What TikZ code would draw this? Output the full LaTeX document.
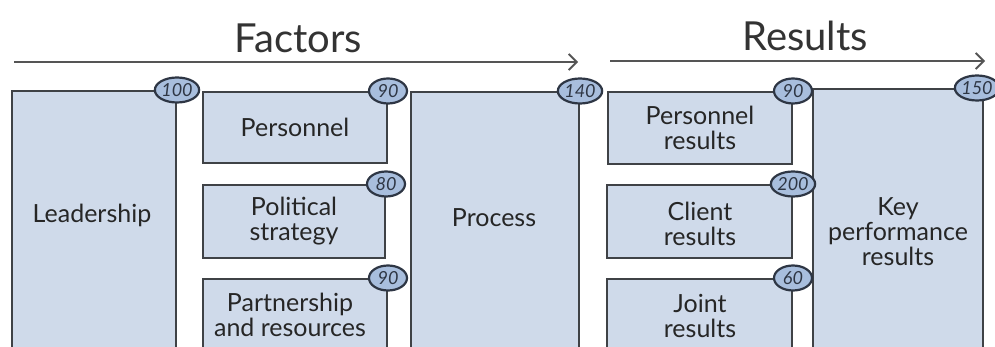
\documentclass[tikz,border=0pt]{standalone}
\usepackage{fontspec}
\setmainfont{Lato}
\usetikzlibrary{arrows.meta,shapes.geometric}
\definecolor{boxfill}{HTML}{CFDAEA}
\definecolor{boxline}{HTML}{3F4246}
\definecolor{badgefill}{HTML}{A8BEDD}
\definecolor{badgeline}{HTML}{2E3644}
\definecolor{arrowgray}{HTML}{555555}
\tikzset{
  block/.style={draw=boxline, fill=boxfill, line width=2pt, inner sep=0pt,
    align=center, font=\fontsize{25}{25}\selectfont, text=black!85},
  blocktext/.style={align=center, font=\fontsize{25}{25}\selectfont, text=black!85, inner sep=0pt},
  badge/.style={ellipse, draw=badgeline, fill=badgefill, line width=2.2pt,
    minimum width=38pt, minimum height=25pt, inner sep=0pt,
    font=\fontsize{18}{18}\itshape\selectfont, text=badgeline},
  flow/.style={draw=arrowgray, line width=1.8pt, -{Straight Barb[length=8pt,width=16pt,line width=1.8pt]}},
  heading/.style={font=\fontsize{40}{40}\selectfont, text=black!80}
}
\begin{document}
\begin{tikzpicture}[x=1pt,y=-1pt]
\useasboundingbox (0,0) rectangle (995,347);
\clip (0,0) rectangle (995,347);

% headings and direction arrows
\node[heading] (factors) at (298,38) {Factors};
\node[heading] (results) at (805,36) {Results};
\coordinate (f0) at (14,62);
\coordinate (f1) at (578,62);
\coordinate (r0) at (610,61);
\coordinate (r1) at (985,61);
\draw[flow] (f0) -- (f1);
\draw[flow] (r0) -- (r1);

% enablers
\node[block, minimum width=164pt, minimum height=269pt] (lead) at (94,225.5) {};
\node[blocktext] (leadT) at (92,215) {Leadership};
\node[block, minimum width=184pt, minimum height=71pt] (pers) at (295,127.5) {Personnel};
\node[block, minimum width=182pt, minimum height=73pt] (pol) at (294,221.5) {Political\\strategy};
\node[block, minimum width=184pt, minimum height=81pt] (part) at (295,319.5) {};
\node[blocktext] (partT) at (290,315) {Partnership\\and resources};
\node[block, minimum width=168pt, minimum height=268pt] (proc) at (495,226) {};
\node[blocktext] (procT) at (494,218) {Process};

% results
\node[block, minimum width=184pt, minimum height=72pt] (persR) at (700,128) {Personnel\\results};
\node[block, minimum width=185pt, minimum height=73pt] (cli) at (699.5,221.5) {};
\node[blocktext] (cliT) at (700,224) {Client\\results};
\node[block, minimum width=185pt, minimum height=81pt] (joint) at (699.5,319.5) {};
\node[blocktext] (jointT) at (700,316) {Joint\\results};
\node[block, minimum width=170pt, minimum height=271pt] (kpr) at (898,224.5) {};
\node[blocktext] (kprT) at (898,232) {Key\\performance\\results};

% weights
\node[badge] (bLead) at (lead.north east) {100};
\node[badge] (bPers) at (pers.north east) {90};
\node[badge] (bPol) at (pol.north east) {80};
\node[badge] (bPart) at (part.north east) {90};
\node[badge] (bProc) at (proc.north east) {140};
\node[badge] (bPersR) at (persR.north east) {90};
\node[badge] (bCli) at (cli.north east) {200};
\node[badge] (bJoint) at (joint.north east) {60};
\node[badge, xshift=-7pt] (bKpr) at (kpr.north east) {150};
\end{tikzpicture}
\end{document}
